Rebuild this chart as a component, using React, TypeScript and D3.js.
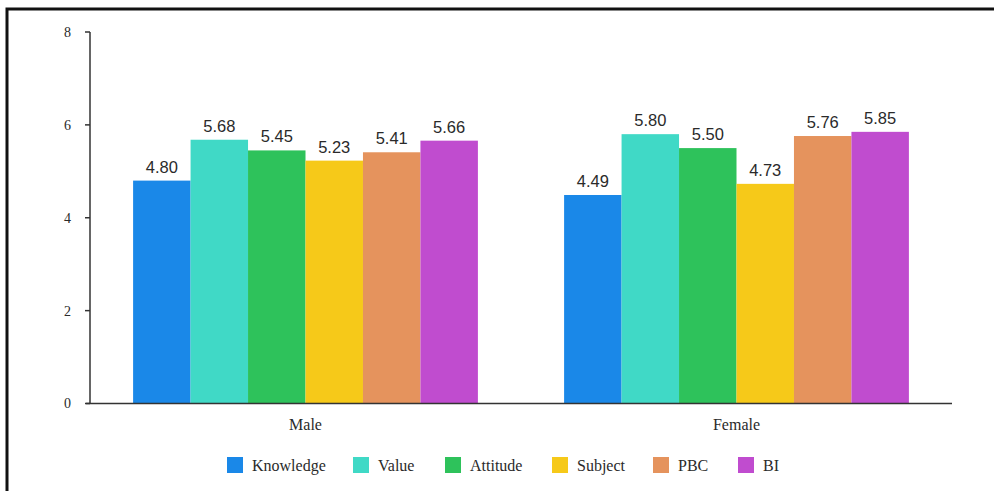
import React from "react";
import * as d3 from "d3";

const groups = ["Male", "Female"];
const series = ["Knowledge", "Value", "Attitude", "Subject", "PBC", "BI"];
const maleValues = [4.8, 5.68, 5.45, 5.23, 5.41, 5.66];
const femaleValues = [4.49, 5.8, 5.5, 4.73, 5.76, 5.85];
const colors = ["#1a88e8", "#40d9c6", "#2ec25b", "#f6c919", "#e5935d", "#c04ccf"];
const yTicks = [0, 2, 4, 6, 8];

const W = 994;
const H = 491;
const left = 90;
const right = 952;
const top = 32;
const bottom = 403.5;

export default function App() {
  const x0 = d3.scaleBand().domain(groups).range([left, right]).paddingInner(0).paddingOuter(0);
  const inner = x0.bandwidth() * 0.8;
  const x1 = d3.scaleBand().domain(series).range([0, inner]).padding(0);
  const y = d3.scaleLinear().domain([0, 8]).range([bottom, top]);
  const data = [maleValues, femaleValues];
  const serif = "'Liberation Serif', 'Times New Roman', serif";
  const sans = "'Liberation Sans', Arial, sans-serif";

  const legendX = [227, 353, 445, 552, 653, 738];

  return (
    <svg width={W} height={H} style={{ position: "absolute", left: 0, top: 0 }}>
      <rect x={0} y={0} width={W} height={H} fill="#fff" />
      <rect x={7} y={9} width={1000} height={500} fill="none" stroke="#111" strokeWidth={3} />
      {groups.map((g, gi) => {
        const gx = (x0(g) as number) + (x0.bandwidth() - inner) / 2;
        return (
          <g key={g}>
            {series.map((s, si) => {
              const v = data[gi][si];
              const bx = gx + (x1(s) as number);
              return (
                <g key={s}>
                  <rect x={bx} y={y(v)} width={x1.bandwidth()} height={bottom - y(v)} fill={colors[si]} />
                  <text
                    x={bx + x1.bandwidth() / 2}
                    y={y(v) - 8}
                    textAnchor="middle"
                    fontFamily={sans}
                    fontSize={16.5}
                    fill="#2a2a2a"
                  >
                    {v.toFixed(2)}
                  </text>
                </g>
              );
            })}
            <text
              x={(x0(g) as number) + x0.bandwidth() / 2}
              y={bottom + 26}
              textAnchor="middle"
              fontFamily={serif}
              fontSize={16}
              fill="#2a2a2a"
            >
              {g}
            </text>
          </g>
        );
      })}
      <line x1={left} x2={left} y1={top} y2={bottom} stroke="#333" strokeWidth={1.5} />
      <line x1={left - 4} x2={right} y1={bottom} y2={bottom} stroke="#333" strokeWidth={1.5} />
      {yTicks.map((t) => (
        <g key={t}>
          <line x1={left - 5} x2={left} y1={y(t)} y2={y(t)} stroke="#333" strokeWidth={1.5} />
          <text x={71} y={y(t)} dy="0.35em" textAnchor="end" fontFamily={serif} fontSize={14} fill="#2a2a2a">
            {t}
          </text>
        </g>
      ))}
      {series.map((s, i) => (
        <g key={s} transform={`translate(${legendX[i]},457)`}>
          <rect x={0} y={0} width={16} height={16} fill={colors[i]} />
          <text x={25} y={8} dy="0.35em" fontFamily={serif} fontSize={16} fill="#2a2a2a">
            {s}
          </text>
        </g>
      ))}
    </svg>
  );
}
